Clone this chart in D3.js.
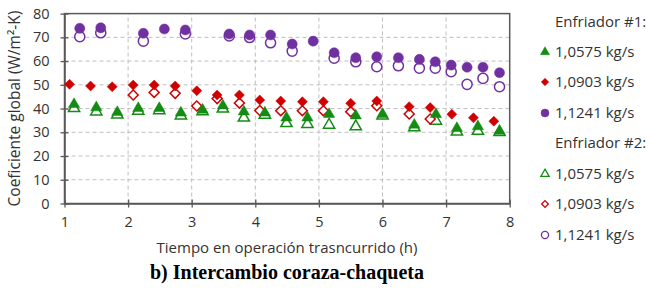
<!DOCTYPE html>
<html>
<head>
<meta charset="utf-8">
<script src="https://cdn.jsdelivr.net/npm/d3@7"></script>
<style>
    body { margin: 0; background: #ffffff; }
    .chart text { font-family: "Open Sans", "Liberation Sans", sans-serif; fill: #333333; }
</style>
</head>
<body>
<div class="chart"></div>
<script>
// Tick labels
var xTicks = [1, 2, 3, 4, 5, 6, 7, 8];
var yTicks = [0, 10, 20, 30, 40, 50, 60, 70, 80];

// Enfriador #1 (filled markers)
var e1GreenX = [1.15, 1.50, 1.83, 2.16, 2.49, 2.83, 3.17, 3.49, 3.82, 4.15, 4.49, 4.82, 5.16, 5.58, 6.00, 6.50, 6.84, 7.17, 7.50, 7.84];
var e1GreenY = [41.8, 40.4, 38.4, 40.1, 40.1, 38.2, 39.4, 41.2, 38.7, 38.2, 36.1, 36.1, 37.6, 37.0, 37.6, 33.1, 37.6, 31.7, 32.4, 30.5];
var e1RedX = [1.08, 1.41, 1.75, 2.08, 2.41, 2.74, 3.08, 3.40, 3.75, 4.07, 4.40, 4.74, 5.07, 5.50, 5.91, 6.42, 6.75, 7.09, 7.43, 7.75];
var e1RedY = [50.2, 49.5, 49.2, 49.9, 49.9, 49.5, 47.5, 45.7, 45.7, 43.6, 43.2, 42.9, 42.9, 42.2, 43.2, 40.8, 40.4, 37.6, 36.1, 34.7];
var e1PurpleX = [1.24, 1.57, 2.24, 2.57, 2.90, 3.59, 3.91, 4.24, 4.58, 4.91, 5.24, 5.58, 5.91, 6.25, 6.58, 6.83, 7.08, 7.33, 7.58, 7.84];
var e1PurpleY = [73.8, 74.0, 71.7, 73.5, 73.1, 71.4, 71.0, 71.0, 67.2, 68.4, 63.5, 61.4, 61.8, 61.4, 60.7, 59.7, 58.3, 57.4, 57.4, 55.1];

// Enfriador #2 (open markers)
var e2GreenX = [1.15, 1.50, 1.83, 2.16, 2.49, 2.83, 3.17, 3.49, 3.82, 4.15, 4.49, 4.82, 5.16, 5.58, 6.00, 6.50, 6.84, 7.17, 7.50, 7.84];
var e2GreenY = [40.1, 38.7, 37.4, 39.0, 39.2, 37.0, 38.8, 39.9, 36.1, 37.3, 33.8, 33.4, 33.1, 32.4, 37.0, 32.0, 34.8, 30.2, 30.5, 30.0];
var e2RedX = [2.08, 2.41, 2.74, 3.08, 3.40, 3.75, 4.07, 4.40, 4.74, 5.07, 5.50, 5.91, 6.42, 6.75];
var e2RedY = [45.7, 46.8, 46.4, 41.1, 44.2, 42.3, 39.2, 39.1, 39.1, 39.1, 38.7, 41.2, 37.7, 35.6];
var e2PurpleX = [1.24, 1.57, 2.24, 2.90, 3.59, 3.91, 4.24, 4.58, 5.24, 5.58, 5.91, 6.25, 6.58, 6.83, 7.08, 7.33, 7.58, 7.84];
var e2PurpleY = [70.3, 71.9, 68.4, 71.4, 70.6, 69.9, 67.7, 64.2, 61.2, 59.7, 57.6, 58.0, 57.0, 57.0, 55.5, 50.2, 52.7, 49.2];

var seriesLabels = ["1,0575 kg/s", "1,0903 kg/s", "1,1241 kg/s"];

function init() {
    var w = 650;
    var h = 293;

    var green = "#148c14";
    var red = "#d00000";
    var purple = "#7030a0";

    var svg = d3.select(".chart")
        .append("svg")
        .attr("width", w)
        .attr("height", h);

    // Scales
    var xScale = d3.scaleLinear()
        .domain([1, 8])
        .range([64.5, 509.7]);

    var yScale = d3.scaleLinear()
        .domain([0, 80])
        .range([203.5, 13.6]);

    // Dashed grid
    svg.append("g")
        .selectAll("line")
        .data(yTicks.slice(1, -1))
        .enter().append("line")
        .attr("x1", xScale(1))
        .attr("x2", xScale(8))
        .attr("y1", function(d) { return yScale(d); })
        .attr("y2", function(d) { return yScale(d); })
        .attr("stroke", "#bfbfbf")
        .attr("stroke-width", 1)
        .attr("stroke-dasharray", "4,3");

    svg.append("g")
        .selectAll("line")
        .data(xTicks.slice(1, -1))
        .enter().append("line")
        .attr("x1", function(d) { return xScale(d); })
        .attr("x2", function(d) { return xScale(d); })
        .attr("y1", yScale(0))
        .attr("y2", yScale(80))
        .attr("stroke", "#bfbfbf")
        .attr("stroke-width", 1)
        .attr("stroke-dasharray", "4,3");

    // Plot area border
    svg.append("rect")
        .attr("x", xScale(1))
        .attr("y", yScale(80))
        .attr("width", xScale(8) - xScale(1))
        .attr("height", yScale(0) - yScale(80))
        .attr("fill", "none")
        .attr("stroke", "#595959")
        .attr("stroke-width", 1.5);

    // Axes (ticks crossing the axis line)
    var xAxis = d3.axisBottom(xScale)
        .tickValues(xTicks)
        .tickFormat(d3.format("d"))
        .tickSizeInner(4)
        .tickSizeOuter(0)
        .tickPadding(9);

    var gx = svg.append("g")
        .attr("transform", "translate(0," + yScale(0) + ")")
        .call(xAxis);
    gx.selectAll(".tick line").attr("y1", -4).attr("stroke", "#595959").attr("stroke-width", 1.3);
    gx.select(".domain").attr("stroke", "#595959").attr("stroke-width", 1.5);
    gx.selectAll("text").style("font-size", "14.5px").attr("fill", "#333333");

    var yAxis = d3.axisLeft(yScale)
        .tickValues(yTicks)
        .tickSizeInner(4)
        .tickSizeOuter(0)
        .tickPadding(11);

    var gy = svg.append("g")
        .attr("transform", "translate(" + xScale(1) + ",0)")
        .call(yAxis);
    gy.selectAll(".tick line").attr("x1", 4).attr("stroke", "#595959").attr("stroke-width", 1.3);
    gy.select(".domain").attr("stroke", "#595959").attr("stroke-width", 1.5);
    gy.selectAll("text").style("font-size", "14.5px").attr("fill", "#333333");

    // Marker shapes
    var tri = d3.symbol().type(d3.symbolTriangle).size(55);
    var dia = d3.symbol().type(d3.symbolSquare).size(50);
    var circ = d3.symbol().type(d3.symbolCircle).size(80);

    function zip(xs, ys) {
        return xs.map(function(x, i) { return { x: x, y: ys[i] }; });
    }

    function drawSeries(data, path, rotate, color, filled) {
        svg.append("g")
            .selectAll("path")
            .data(data)
            .enter().append("path")
            .attr("d", path)
            .attr("transform", function(d) {
                return "translate(" + xScale(d.x) + "," + yScale(d.y) + ")" + (rotate ? " rotate(45)" : "");
            })
            .attr("fill", filled ? color : "#ffffff")
            .attr("stroke", color)
            .attr("stroke-width", filled ? 0.5 : 1.5);
    }

    // Enfriador #2 first so the filled markers sit on top
    drawSeries(zip(e2GreenX, e2GreenY), tri, false, green, false);
    drawSeries(zip(e2RedX, e2RedY), dia, true, red, false);
    drawSeries(zip(e2PurpleX, e2PurpleY), circ, false, purple, false);
    drawSeries(zip(e1GreenX, e1GreenY), tri, false, green, true);
    drawSeries(zip(e1RedX, e1RedY), dia, true, red, true);
    drawSeries(zip(e1PurpleX, e1PurpleY), circ, false, purple, true);

    // Legend
    var legend = svg.append("g");
    var lx = 555;
    var rows = [
        { y: 22, head: "Enfriador #1:" },
        { y: 52, path: d3.symbol().type(d3.symbolTriangle).size(36), color: green, filled: true, label: seriesLabels[0] },
        { y: 82, path: d3.symbol().type(d3.symbolSquare).size(28), rot: true, color: red, filled: true, label: seriesLabels[1] },
        { y: 113, path: d3.symbol().type(d3.symbolCircle).size(50), color: purple, filled: true, label: seriesLabels[2] },
        { y: 143, head: "Enfriador #2:" },
        { y: 174, path: d3.symbol().type(d3.symbolTriangle).size(30), color: green, filled: false, label: seriesLabels[0] },
        { y: 204, path: d3.symbol().type(d3.symbolSquare).size(22), rot: true, color: red, filled: false, label: seriesLabels[1] },
        { y: 235, path: d3.symbol().type(d3.symbolCircle).size(40), color: purple, filled: false, label: seriesLabels[2] }
    ];

    rows.forEach(function(r) {
        if (r.head) {
            legend.append("text")
                .attr("x", lx)
                .attr("y", r.y)
                .attr("dy", "0.35em")
                .style("font-size", "15px")
                .text(r.head);
            return;
        }
        legend.append("path")
            .attr("d", r.path)
            .attr("transform", "translate(" + (lx - 10) + "," + r.y + ")" + (r.rot ? " rotate(45)" : ""))
            .attr("fill", r.filled ? r.color : "#ffffff")
            .attr("stroke", r.color)
            .attr("stroke-width", r.filled ? 0.5 : 1.3);
        legend.append("text")
            .attr("x", lx)
            .attr("y", r.y)
            .attr("dy", "0.35em")
            .style("font-size", "15px")
            .text(r.label);
    });

    // Axis titles
    svg.append("text")
        .attr("transform", "translate(20," + yScale(40) + ") rotate(-90)")
        .attr("text-anchor", "middle")
        .style("font-size", "15.5px")
        .text("Coeficiente global (W/m²-K)");

    svg.append("text")
        .attr("x", 287)
        .attr("y", 253)
        .attr("text-anchor", "middle")
        .style("font-size", "15px")
        .text("Tiempo en operación trasncurrido (h)");

    // Caption
    svg.append("text")
        .attr("x", 287)
        .attr("y", 279)
        .attr("text-anchor", "middle")
        .style("font-family", "'Liberation Serif', 'Times New Roman', serif")
        .style("font-size", "20px")
        .style("font-weight", "bold")
        .style("fill", "#000000")
        .text("b) Intercambio coraza-chaqueta");
}

window.onload = init;
</script>
</body>
</html>
